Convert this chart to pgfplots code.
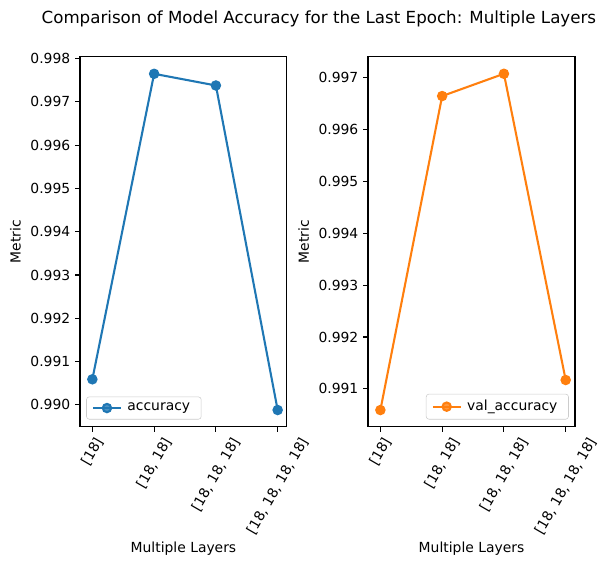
\documentclass[border=0pt]{standalone}
\usepackage{pgfplots}
\pgfplotsset{compat=1.18}
\usepackage{fontspec}
\setmainfont{DejaVu Sans}
\definecolor{tabblue}{HTML}{1F77B4}
\definecolor{taborange}{HTML}{FF7F0E}
\pgfplotsset{
  mystyle/.style={
    scale only axis,
    width=149pt, height=266.4pt,
    font=\fontsize{10}{12}\selectfont,
    /pgf/number format/assume math mode=true,
    yticklabel style={/pgf/number format/fixed, /pgf/number format/precision=3, /pgf/number format/fixed zerofill},
    scaled y ticks=false,
    xtick pos=bottom, ytick pos=left,
    tick align=outside,
    major tick length=3.5pt,
    axis line style={line width=0.8pt},
    every tick/.style={black, line width=0.8pt},
    xmin=-0.2, xmax=3.15,
    xtick={0,1,2,3},
    xticklabels={\rotatebox{60}{[18]},\rotatebox{60}{[18, 18]},\rotatebox{60}{[18, 18, 18]},\rotatebox{60}{[18, 18, 18, 18]}},
    xticklabel style={anchor=north, inner sep=1pt, yshift=-2pt},
    xlabel={Multiple Layers},
    ylabel={Metric},
    legend cell align=left,
    legend image code/.code={\draw[mark repeat=2,mark phase=2] plot coordinates {(0pt,0pt) (10pt,0pt) (20pt,0pt)};},
    legend style={font=\fontsize{10}{12}\selectfont, draw=black!20, rounded corners=2pt, fill=white, fill opacity=0.8, text opacity=1, inner xsep=4pt, inner ysep=2.5pt, nodes={inner xsep=4pt}},
  }
}
\begin{document}
\begin{tikzpicture}
\begin{axis}[mystyle, at={(0,0)}, anchor=south west,
  ymin=0.98949, ymax=0.99804,
  ytick={0.990,0.991,0.992,0.993,0.994,0.995,0.996,0.997,0.998},
  legend style={at={(0.03,0.02)}, anchor=south west}]
\addplot[color=tabblue, line width=1.5pt, mark=*, mark size=3pt, mark options={fill=tabblue, draw=tabblue}]
  coordinates {(0,0.99059) (1,0.99765) (2,0.99738) (3,0.98988)};
\addlegendentry{accuracy}
\end{axis}
\begin{axis}[mystyle, at={(207.4pt,0)}, anchor=south west,
  ymin=0.990265, ymax=0.997405,
  ytick={0.991,0.992,0.993,0.994,0.995,0.996,0.997},
  legend style={at={(0.97,0.02)}, anchor=south east}]
\addplot[color=taborange, line width=1.5pt, mark=*, mark size=3pt, mark options={fill=taborange, draw=taborange}]
  coordinates {(0,0.99059) (1,0.99665) (2,0.99708) (3,0.99117)};
\addlegendentry{val\_accuracy}
\end{axis}
\node[font=\fontsize{12}{14}\selectfont] at (172pt,294pt) {Comparison of Model Accuracy for the Last Epoch: Multiple Layers};
\pgfresetboundingbox
\path (-57.6pt,-100.8pt) rectangle (380.2pt,307.4pt);
\end{tikzpicture}
\end{document}
